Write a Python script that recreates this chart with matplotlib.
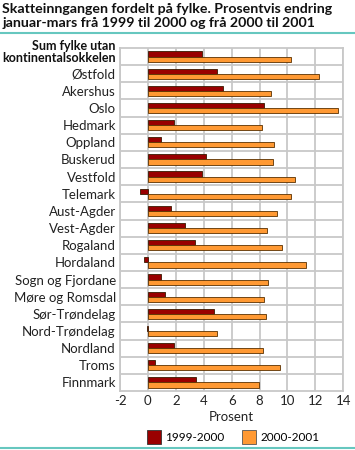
import numpy as np
import matplotlib.pyplot as plt
from matplotlib.patches import Patch
from matplotlib.lines import Line2D

fylker = ['Sum fylke utan\nkontinentalsokkelen', 'Østfold', 'Akershus', 'Oslo', 'Hedmark',
          'Oppland', 'Buskerud', 'Vestfold', 'Telemark', 'Aust-Agder', 'Vest-Agder',
          'Rogaland', 'Hordaland', 'Sogn og Fjordane', 'Møre og Romsdal', 'Sør-Trøndelag',
          'Nord-Trøndelag', 'Nordland', 'Troms', 'Finnmark']
v_1999_2000 = [3.85, 4.95, 5.4, 8.3, 1.85, 0.95, 4.15, 3.85, -0.6, 1.65, 2.65, 3.35,
               -0.3, 0.95, 1.2, 4.75, -0.1, 1.85, 0.5, 3.45]
v_2000_2001 = [10.25, 12.25, 8.8, 13.65, 8.2, 9.05, 8.95, 10.55, 10.25, 9.25, 8.55, 9.6,
               11.35, 8.6, 8.3, 8.45, 4.95, 8.25, 9.45, 7.95]
x_ticks = [-2, 0, 2, 4, 6, 8, 10, 12, 14]

red = '#990000'
orange = '#ff9933'
grid = '#c8c8c8'
teal = '#66c7bf'

plt.rcParams['font.family'] = ['Lato', 'DejaVu Sans']

fig = plt.figure(figsize=(3.55, 4.5), dpi=100)
ax = fig.add_axes([120/355, 1 - 391/450, 223.3/355, 343/450])

n = len(fylker)
y = np.arange(n)
h = 0.3
ax.barh(y - h/2, v_1999_2000, height=h, color=red, edgecolor='#3a1a00', linewidth=0.6, zorder=3)
ax.barh(y + h/2, v_2000_2001, height=h, color=orange, edgecolor='#5a3000', linewidth=0.6, zorder=3)

ax.set_xlim(-2, 14)
ax.set_ylim(n - 0.5, -0.5)
ax.set_xticks(x_ticks)
ax.set_xticklabels([str(t) for t in x_ticks], fontsize=9.5, color='#222222')
ax.set_yticks(y)
ax.set_yticklabels([''] + fylker[1:], fontsize=9.5, color='#222222')
ax.tick_params(length=0, pad=3)

# sum-raden har fet, totrinns etikett litt over midten av raden
fig.text(116/355, 1 - 52/450, fylker[0], fontsize=9, fontweight='bold', ha='right',
         va='center', linespacing=1.0, multialignment='right', color='#111111')

for t in x_ticks:
    ax.axvline(t, color=grid, linewidth=1.3, zorder=1)
for b in np.arange(n - 1) + 0.5:
    ax.axhline(b, color=grid, linewidth=1.3, zorder=1)
for s in ax.spines.values():
    s.set_color(grid)
    s.set_linewidth(1.3)

ax.set_xlabel('Prosent', fontsize=9.5, labelpad=3, color='#222222')

fig.text(0.006, 0.993, 'Skatteinngangen fordelt på fylke. Prosentvis endring\njanuar-mars frå 1999 til 2000 og frå 2000 til 2001',
         fontsize=10.2, fontweight='bold', va='top', ha='left', linespacing=1.2, color='#111111')

fig.add_artist(Line2D([0, 1], [1 - 33/450, 1 - 33/450], color=teal, linewidth=1.5, transform=fig.transFigure))
fig.add_artist(Line2D([0, 1], [1 - 448/450, 1 - 448/450], color=teal, linewidth=1.5, transform=fig.transFigure))

handles = [Patch(facecolor=red, edgecolor='#333333', linewidth=0.6, label='1999-2000'),
           Patch(facecolor=orange, edgecolor='#555555', linewidth=0.6, label='2000-2001')]
fig.legend(handles=handles, loc='center', bbox_to_anchor=(233/355, 1 - 437/450), ncol=2,
           frameon=False, fontsize=8.5, handlelength=1.2, handleheight=1.35,
           handletextpad=0.35, columnspacing=1.5, borderpad=0.2)

fig.savefig('out.png', dpi=100)
